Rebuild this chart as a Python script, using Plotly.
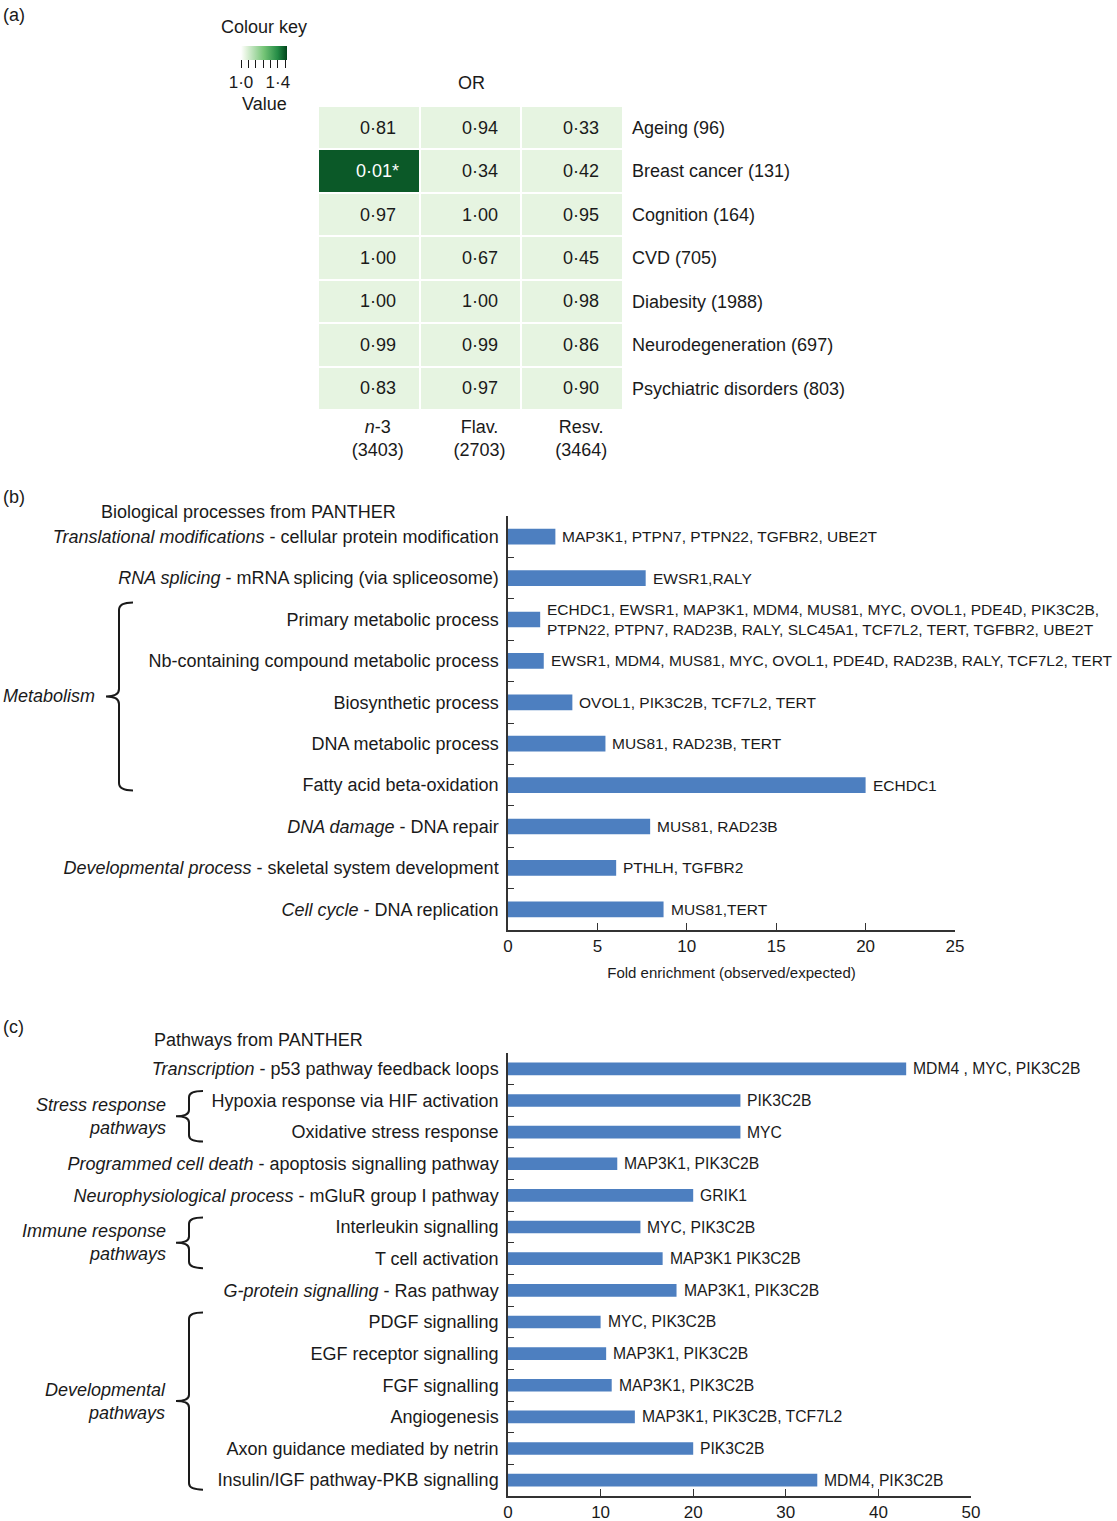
import plotly.graph_objects as go

W, H = 1117, 1521
FONT = "Liberation Sans, Arial, sans-serif"
INK = "#1a1a1a"
BAR = "#4d7fc0"

# ---------------- Panel (a) data ----------------
diseases = ["Ageing (96)", "Breast cancer (131)", "Cognition (164)", "CVD (705)",
            "Diabesity (1988)", "Neurodegeneration (697)", "Psychiatric disorders (803)"]
compounds = ["n-3", "Flav.", "Resv."]
compound_labels = ["<i>n</i>-3<br>(3403)", "Flav.<br>(2703)", "Resv.<br>(3464)"]
p_values = [
    [0.81, 0.94, 0.33],
    [0.01, 0.34, 0.42],
    [0.97, 1.00, 0.95],
    [1.00, 0.67, 0.45],
    [1.00, 1.00, 0.98],
    [0.99, 0.99, 0.86],
    [0.83, 0.97, 0.90],
]
or_values = [
    [1.05, 1.05, 1.05],
    [1.47, 1.05, 1.05],
    [1.05, 1.05, 1.05],
    [1.05, 1.05, 1.05],
    [1.05, 1.05, 1.05],
    [1.05, 1.05, 1.05],
    [1.05, 1.05, 1.05],
]
key_ticks = [1.0, 1.08, 1.16, 1.24, 1.32, 1.40, 1.48]
key_labels = ["1·0", "", "", "", "", "1·4", ""]

# ---------------- Panel (b) data ----------------
bp_labels = [
    "<i>Translational modifications</i> - cellular protein modification",
    "<i>RNA splicing</i> - mRNA splicing (via spliceosome)",
    "Primary metabolic process",
    "Nb-containing compound metabolic process",
    "Biosynthetic process",
    "DNA metabolic process",
    "Fatty acid beta-oxidation",
    "<i>DNA damage</i> - DNA repair",
    "<i>Developmental process</i> - skeletal system development",
    "<i>Cell cycle</i> - DNA replication",
]
bp_values = [2.65, 7.7, 1.8, 2.0, 3.6, 5.45, 20.0, 7.95, 6.05, 8.7]
bp_genes = [
    "MAP3K1, PTPN7, PTPN22, TGFBR2, UBE2T",
    "EWSR1,RALY",
    "ECHDC1, EWSR1, MAP3K1, MDM4, MUS81, MYC, OVOL1, PDE4D, PIK3C2B,<br>PTPN22, PTPN7, RAD23B, RALY, SLC45A1, TCF7L2, TERT, TGFBR2, UBE2T",
    "EWSR1, MDM4, MUS81, MYC, OVOL1, PDE4D, RAD23B, RALY, TCF7L2, TERT",
    "OVOL1, PIK3C2B, TCF7L2, TERT",
    "MUS81, RAD23B, TERT",
    "ECHDC1",
    "MUS81, RAD23B",
    "PTHLH, TGFBR2",
    "MUS81,TERT",
]
bp_ticks = [0, 5, 10, 15, 20, 25]
bp_groups = [("Metabolism", 2, 6)]

# ---------------- Panel (c) data ----------------
pw_labels = [
    "<i>Transcription</i> - p53 pathway feedback loops",
    "Hypoxia response via HIF activation",
    "Oxidative stress response",
    "<i>Programmed cell death</i> - apoptosis signalling pathway",
    "<i>Neurophysiological process</i> - mGluR group I pathway",
    "Interleukin signalling",
    "T cell activation",
    "<i>G-protein signalling</i> - Ras pathway",
    "PDGF signalling",
    "EGF receptor signalling",
    "FGF signalling",
    "Angiogenesis",
    "Axon guidance mediated by netrin",
    "Insulin/IGF pathway-PKB signalling",
]
pw_values = [43.0, 25.1, 25.1, 11.8, 20.0, 14.3, 16.7, 18.2, 10.0, 10.6, 11.2, 13.7, 20.0, 33.4]
pw_genes = [
    "MDM4 , MYC, PIK3C2B", "PIK3C2B", "MYC", "MAP3K1, PIK3C2B", "GRIK1",
    "MYC, PIK3C2B", "MAP3K1 PIK3C2B", "MAP3K1, PIK3C2B", "MYC, PIK3C2B",
    "MAP3K1, PIK3C2B", "MAP3K1, PIK3C2B", "MAP3K1, PIK3C2B, TCF7L2", "PIK3C2B",
    "MDM4, PIK3C2B",
]
pw_ticks = [0, 10, 20, 30, 40, 50]
pw_groups = [("Stress response<br>pathways", 1, 2),
             ("Immune response<br>pathways", 5, 6),
             ("Developmental<br>pathways", 8, 13)]


def px(x):
    return x / W


def py(y):
    return 1 - y / H


fig = go.Figure()

# Heatmap
fig.add_trace(go.Heatmap(
    z=or_values, x=compounds, y=diseases,
    zmin=1.0, zmax=1.5,
    colorscale=[[0, "#ffffff"], [0.1, "#e6f4e1"], [0.5, "#74c476"], [0.8, "#238b45"], [1, "#00441b"]],
    xgap=2, ygap=2, hoverinfo="skip",
    xaxis="x", yaxis="y",
    colorbar=dict(
        orientation="h", x=px(264), xanchor="center", y=py(26), yanchor="top",
        len=46, lenmode="pixels", thickness=14, outlinewidth=0, xpad=0, ypad=0,
        ticks="outside", ticklen=8, tickcolor=INK, tickwidth=1,
        tickvals=key_ticks, ticktext=key_labels,
        tickfont=dict(size=17, color=INK, family=FONT),
        title=dict(text="Colour key", side="top", font=dict(size=18, color=INK, family=FONT)),
    ),
))

annotations = []
for i, row in enumerate(p_values):
    for j, p in enumerate(row):
        txt = f"{p:.2f}".replace(".", "·") + ("*" if p < 0.05 else "")
        col = "white" if or_values[i][j] > 1.3 else INK
        annotations.append(dict(x=compounds[j], y=diseases[i], xref="x", yref="y",
                                text=txt, showarrow=False, xshift=9,
                                font=dict(size=18, color=col, family=FONT)))

# Panel b bars
fig.add_trace(go.Bar(x=bp_values, y=bp_labels, orientation="h", width=0.38,
                     marker=dict(color=BAR, line=dict(width=0)),
                     xaxis="x2", yaxis="y2", hoverinfo="skip"))
for lab, v, g in zip(bp_labels, bp_values, bp_genes):
    annotations.append(dict(x=v, y=lab, xref="x2", yref="y2", text=g, showarrow=False,
                            xanchor="left", align="left", xshift=5,
                            font=dict(size=15.5, color=INK, family=FONT)))

# Panel c bars
fig.add_trace(go.Bar(x=pw_values, y=pw_labels, orientation="h", width=0.4,
                     marker=dict(color=BAR, line=dict(width=0)),
                     xaxis="x3", yaxis="y3", hoverinfo="skip"))
for lab, v, g in zip(pw_labels, pw_values, pw_genes):
    annotations.append(dict(x=v, y=lab, xref="x3", yref="y3", text=g, showarrow=False,
                            xanchor="left", align="left", xshift=5,
                            font=dict(size=15.7, color=INK, family=FONT)))

# Texts
def txt(x, y, s, size=18, xanchor="left", align="left"):
    annotations.append(dict(x=px(x), y=py(y), xref="paper", yref="paper", text=s,
                            showarrow=False, xanchor=xanchor, yanchor="middle", align=align,
                            font=dict(size=size, color=INK, family=FONT)))

txt(1, 15, "(a)")
txt(1, 497, "(b)")
txt(1, 1027, "(c)")
txt(264, 104, "Value", xanchor="center", align="center")
txt(471, 83, "OR", xanchor="center", align="center")
txt(99, 512, "Biological processes from PANTHER")
txt(152, 1040, "Pathways from PANTHER")

shapes = []


def brace(label, first, last, yref, xl, xh, xn, xtext, top_off, bot_off, r):
    yt = first - top_off
    yb = last + bot_off
    ym = (yt + yb) / 2
    a, b, c = px(xl), px(xh), px(xn)
    path = (f"M {b},{yt} Q {a},{yt} {a},{yt + r} L {a},{ym - r} "
            f"Q {a},{ym} {c},{ym} Q {a},{ym} {a},{ym + r} L {a},{yb - r} Q {a},{yb} {b},{yb}")
    shapes.append(dict(type="path", path=path, xref="paper", yref=yref,
                       line=dict(color=INK, width=2)))
    annotations.append(dict(x=px(xtext), y=ym, xref="paper", yref=yref,
                            text=f"<i>{label}</i>", showarrow=False, xanchor="right",
                            align="right", yanchor="middle",
                            font=dict(size=18, color=INK, family=FONT)))


for lab, f, l in bp_groups:
    brace(lab, f, l, "y2", 119, 133, 106, 97, 0.41, 0.13, 0.18)
for lab, f, l in pw_groups:
    brace(lab, f, l, "y3", 189, 203, 176, 168, 0.3, 0.3, 0.2)

axis_common = dict(showgrid=False, zeroline=False, automargin=False)

fig.update_layout(
    width=W, height=H, margin=dict(l=0, r=0, t=0, b=0, pad=0, autoexpand=False),
    paper_bgcolor="white", plot_bgcolor="white", showlegend=False,
    font=dict(family=FONT, color=INK, size=18),
    xaxis=dict(domain=[px(318), px(623)], anchor="y", tickvals=compounds, ticktext=compound_labels,
               ticks="", showline=False, ticklabelshift=9, ticklabelstandoff=4,
               tickfont=dict(size=18, color=INK, family=FONT), **axis_common),
    yaxis=dict(domain=[py(410), py(106)], anchor="x", side="right", autorange="reversed",
               ticks="", showline=False, ticklabelstandoff=8,
               tickfont=dict(size=18, color=INK, family=FONT), **axis_common),
    xaxis2=dict(domain=[px(508), px(955)], anchor="y2", range=[0, 25], tickvals=bp_ticks,
                ticks="inside", ticklen=7, tickcolor="#333", showline=True, linecolor="#333",
                linewidth=1.5, tickfont=dict(size=17, color=INK, family=FONT),
                title=dict(text="Fold enrichment (observed/expected)", standoff=12,
                           font=dict(size=15, color=INK, family=FONT)), **axis_common),
    yaxis2=dict(domain=[py(930), py(516)], anchor="x2", type="category",
                categoryorder="array", categoryarray=bp_labels, range=[9.5, -0.5],
                ticks="inside", tickson="boundaries", ticklen=6, tickcolor="#333",
                showline=True, linecolor="#333", linewidth=1.5, ticklabelstandoff=4,
                tickfont=dict(size=18, color=INK, family=FONT), **axis_common),
    xaxis3=dict(domain=[px(508), px(971)], anchor="y3", range=[0, 50], tickvals=pw_ticks,
                ticks="inside", ticklen=7, tickcolor="#333", showline=True, linecolor="#333",
                linewidth=1.5, tickfont=dict(size=17, color=INK, family=FONT), **axis_common),
    yaxis3=dict(domain=[py(1496), py(1053)], anchor="x3", type="category",
                categoryorder="array", categoryarray=pw_labels, range=[13.5, -0.5],
                ticks="inside", tickson="boundaries", ticklen=6, tickcolor="#333",
                showline=True, linecolor="#333", linewidth=1.5, ticklabelstandoff=4,
                tickfont=dict(size=18, color=INK, family=FONT), **axis_common),
    annotations=annotations, shapes=shapes,
)

fig.write_html("out.html", config={"displayModeBar": False},
               post_script="document.body.style.margin='0';document.body.style.overflow='hidden';")
